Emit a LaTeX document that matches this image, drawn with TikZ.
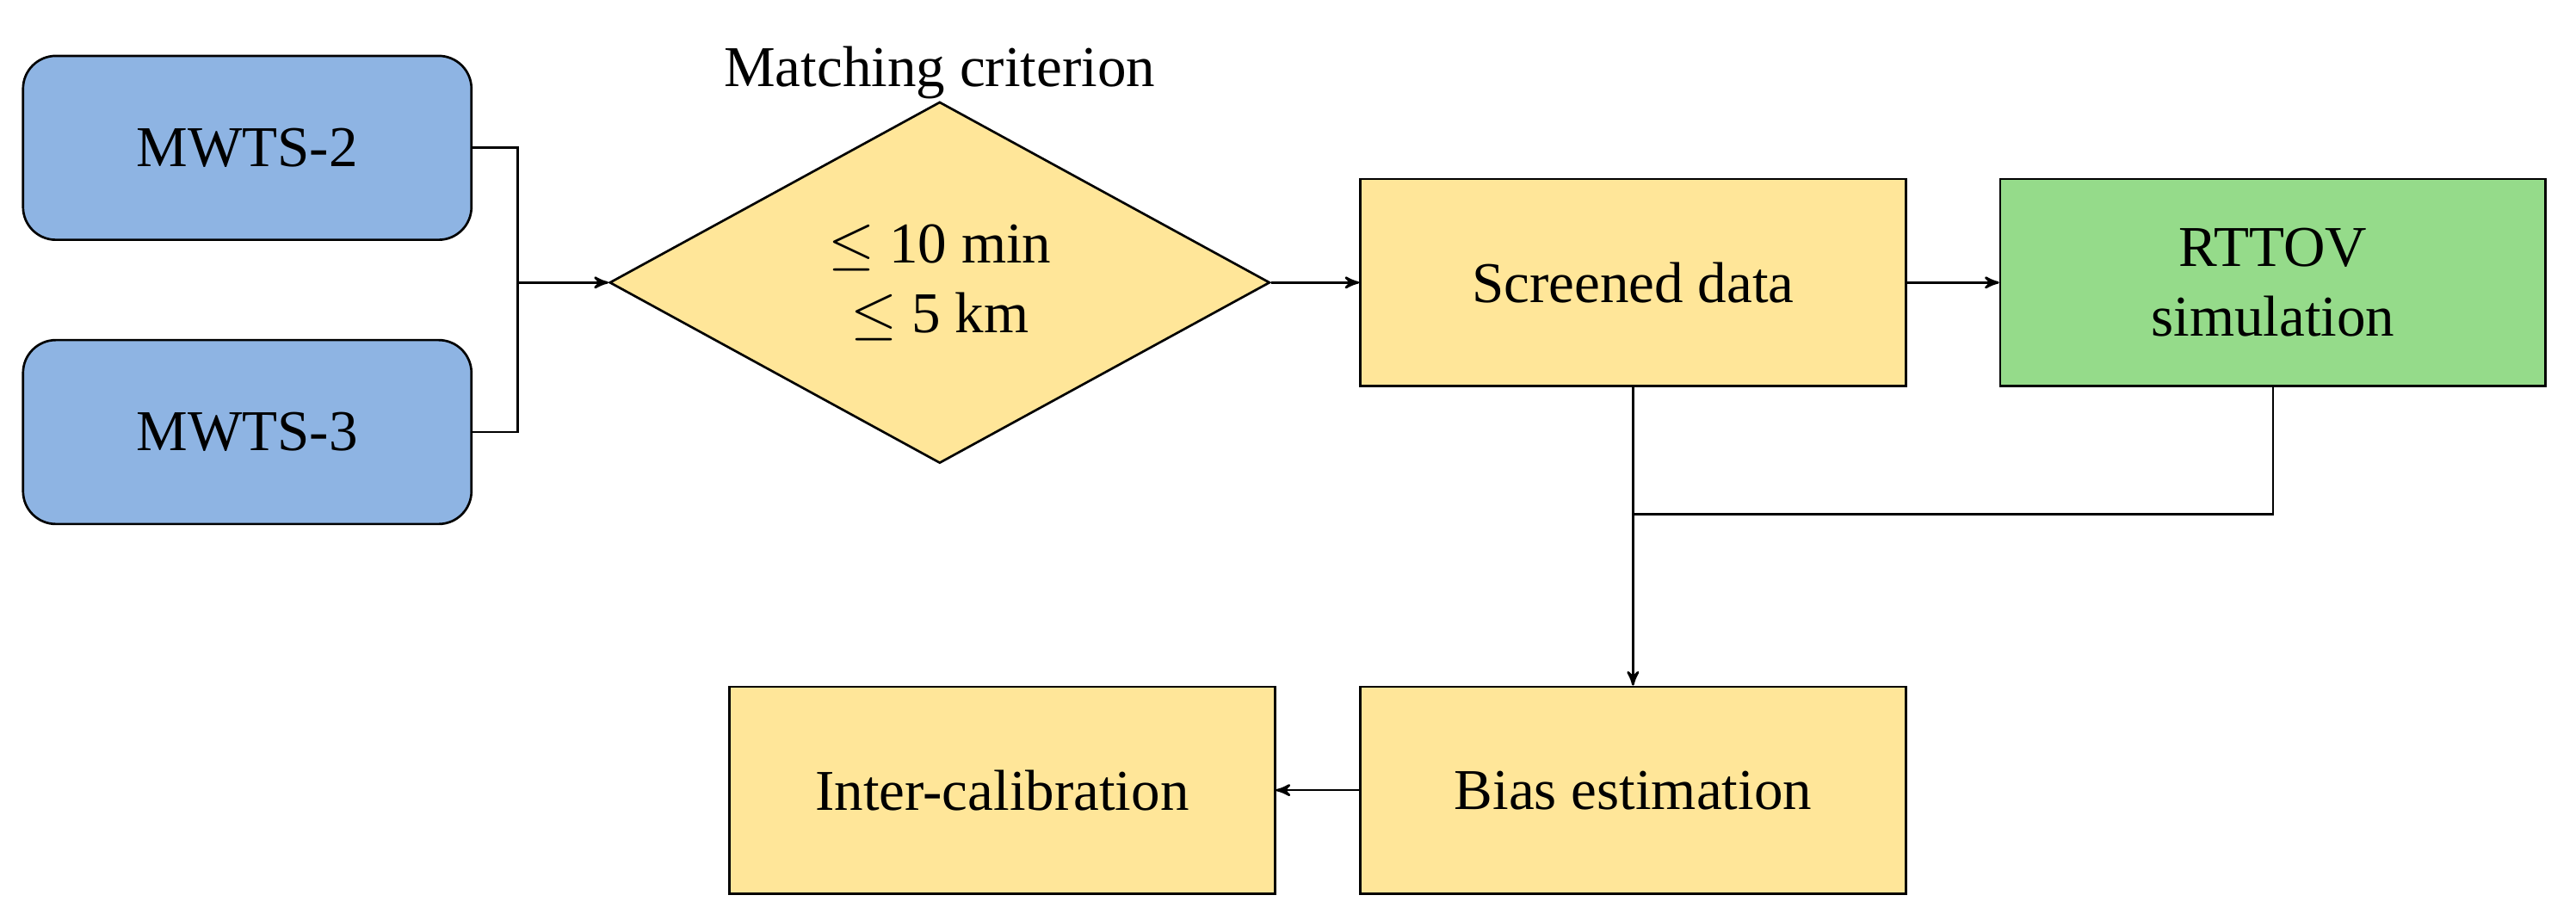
\documentclass[tikz,border=0pt]{standalone}
\usepackage{fontspec}
\setmainfont{Liberation Serif}
\usetikzlibrary{positioning,calc,shapes.geometric,arrows}
\definecolor{boxblue}{HTML}{8EB4E3}
\definecolor{boxyellow}{HTML}{FFE699}
\definecolor{boxgreen}{HTML}{95DB8A}
\begin{document}
\begin{tikzpicture}
   [x=0.02cm,y=-0.02cm,
    font=\fontsize{20}{24}\selectfont,
    sat/.style={rectangle,rounded corners=0.4cm,draw,line width=0.8pt,fill=boxblue,
      minimum width=5.46cm,minimum height=2.24cm},
    stage/.style={rectangle,draw,line width=0.8pt,fill=boxyellow,
      minimum width=6.64cm,minimum height=2.52cm,align=center},
    crit/.style={diamond,draw,line width=0.8pt,fill=boxyellow,inner sep=0pt,
      minimum width=8.04cm,minimum height=4.4cm,align=center},
    link/.style={line width=0.8pt},
    flow/.style={link,->,>=stealth'}]
\useasboundingbox (0,0) rectangle (1568,560);

\node [sat] (mwts2) at (150.5,90) {MWTS-2};
\node [sat] (mwts3) at (150.5,263) {MWTS-3};
\node [crit] (match) at (572,172) {$\leq$ 10 min\\$\leq$ 5 km};
\node [above=-0.1cm of match.north] (crittitle) {Matching criterion};
\node [stage] (screen) at (994,172) {Screened data};
\node [stage,fill=boxgreen] (rttov) at (1383.5,172) {RTTOV\\simulation};
\node [stage] (bias) at (994,481) {Bias estimation};
\node [stage] (inter) at (610,481) {Inter-calibration};

\coordinate (merge) at (315,172);
\coordinate (join) at (995,313);
\draw [link] (mwts2.east) -| (merge) |- (mwts3.east);
\draw [flow] (merge) -- (match.west);
\draw [flow] (match.east) -- (screen.west);
\draw [flow] (screen.east) -- (rttov.west);
\draw [link] (rttov.south) |- (join);
\draw [flow] (screen.south) -- (bias.north);
\draw [flow] (bias.west) -- (inter.east);
\end{tikzpicture}
\end{document}
